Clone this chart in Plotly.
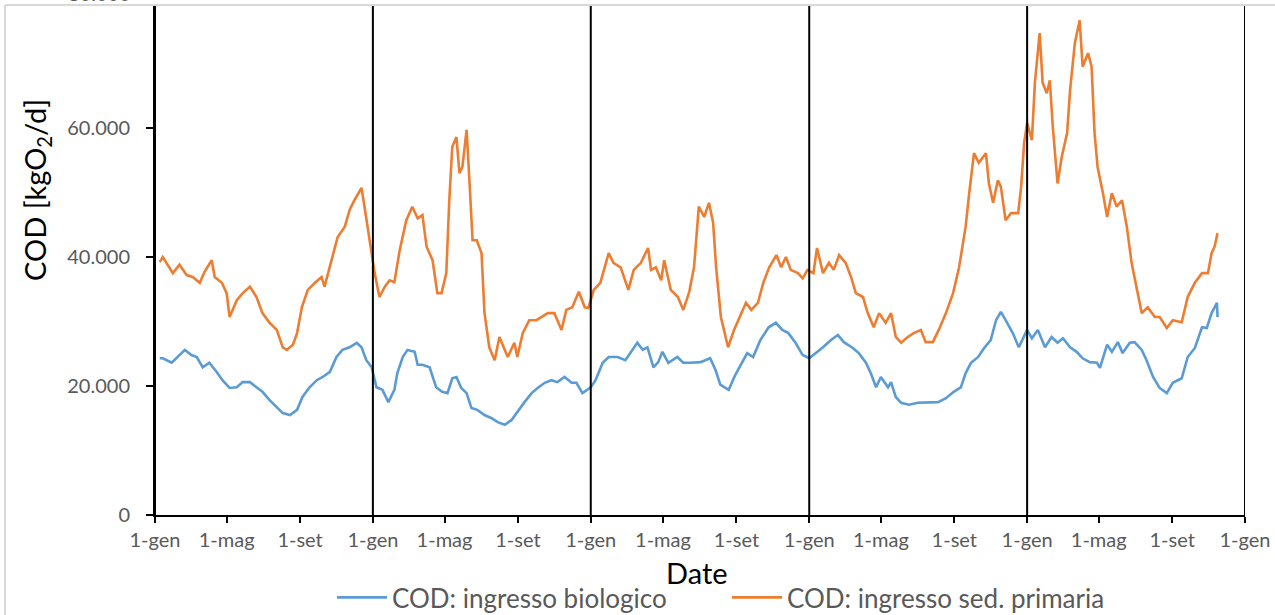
import plotly.graph_objects as go

# ---------------- data ----------------
orange_dates = [
    "2010-01-09","2010-01-14","2010-01-31","2010-02-11","2010-02-23","2010-03-05","2010-03-17","2010-03-25",
    "2010-04-06","2010-04-11","2010-04-23","2010-05-01","2010-05-06","2010-05-18","2010-05-28","2010-06-09",
    "2010-06-20","2010-06-30","2010-07-12","2010-07-24","2010-08-03","2010-08-10","2010-08-20","2010-08-27",
    "2010-09-04","2010-09-14","2010-09-26","2010-10-07","2010-10-12","2010-10-24","2010-11-03","2010-11-15",
    "2010-11-23","2010-12-01","2010-12-13","2010-12-18","2010-12-27",
    "2011-01-04","2011-01-12","2011-01-21","2011-01-29","2011-02-06","2011-02-15","2011-02-26","2011-03-08",
    "2011-03-17","2011-03-25","2011-04-01","2011-04-11","2011-04-19","2011-04-26","2011-05-04","2011-05-09",
    "2011-05-14","2011-05-21","2011-05-26","2011-05-31","2011-06-07","2011-06-12","2011-06-17","2011-06-24",
    "2011-07-02","2011-07-07","2011-07-15","2011-07-24","2011-08-01","2011-08-10","2011-08-15","2011-08-26",
    "2011-08-31","2011-09-09","2011-09-20","2011-10-02","2011-10-11","2011-10-21","2011-11-01","2011-11-13",
    "2011-11-21","2011-12-01","2011-12-12","2011-12-22","2011-12-28",
    "2012-01-06","2012-01-17","2012-01-26","2012-01-31","2012-02-08","2012-02-20","2012-03-04","2012-03-13",
    "2012-03-25","2012-04-06","2012-04-11","2012-04-19","2012-04-28","2012-05-03","2012-05-14","2012-05-26",
    "2012-06-04","2012-06-14","2012-06-22","2012-06-30","2012-07-09","2012-07-17","2012-07-24","2012-07-29",
    "2012-08-06","2012-08-18","2012-08-28","2012-09-09","2012-09-17","2012-09-26","2012-10-07","2012-10-16",
    "2012-10-26","2012-11-07","2012-11-15","2012-11-23","2012-12-01","2012-12-13","2012-12-21","2012-12-29",
    "2013-01-08","2013-01-14","2013-01-24","2013-02-03","2013-02-11","2013-02-20","2013-03-03","2013-03-12",
    "2013-03-20","2013-04-01","2013-04-09","2013-04-19","2013-04-28","2013-05-09","2013-05-18","2013-05-26",
    "2013-06-04","2013-06-15","2013-06-25","2013-07-07","2013-07-15","2013-07-27","2013-08-06","2013-08-18",
    "2013-08-30","2013-09-09","2013-09-20","2013-09-26","2013-10-04","2013-10-12","2013-10-24","2013-10-29",
    "2013-11-05","2013-11-13","2013-11-18","2013-11-26","2013-12-05","2013-12-17","2013-12-22","2013-12-27",
    "2014-01-01","2014-01-09","2014-01-14","2014-01-22","2014-01-27","2014-02-03","2014-02-08","2014-02-13",
    "2014-02-21","2014-02-28","2014-03-09","2014-03-14","2014-03-22","2014-03-30","2014-04-04","2014-04-13",
    "2014-04-19","2014-04-24","2014-04-29","2014-05-08","2014-05-15","2014-05-23","2014-05-31","2014-06-09",
    "2014-06-17","2014-06-25","2014-07-04","2014-07-12","2014-07-22","2014-08-03","2014-08-11","2014-08-23",
    "2014-09-02","2014-09-17","2014-09-27","2014-10-09","2014-10-21","2014-10-31","2014-11-06","2014-11-11",
    "2014-11-16",
]
orange_values = [
    39200,40000,37500,38800,37200,36900,36000,37700,
    39500,36900,36000,34400,30700,33300,34400,35400,
    33800,31300,29800,28700,26000,25600,26400,28200,
    32200,34900,36000,36900,35400,39500,43100,44700,
    47300,48800,50700,47800,42200,
    37500,33800,35400,36400,36100,41100,45700,47800,
    46000,46500,41600,39500,34400,34400,37500,48800,
    57100,58600,53000,54000,59700,51400,42600,42600,
    40600,31300,26000,24000,27600,25600,24500,26700,
    24500,28200,30200,30200,30700,31300,31300,28700,
    31800,32200,34600,32200,32100,
    34900,36000,39100,40600,39100,38400,34900,38000,
    39100,41400,38000,38400,36400,39500,34900,33800,
    31800,34600,38400,47800,46200,48400,45300,38400,
    30700,26000,28700,31300,32900,31800,32900,36000,
    38400,40300,38400,40000,38000,37500,36700,38000,
    37500,41400,37500,39100,38000,40300,39100,36900,
    34400,33800,31300,29100,31300,29800,31300,27600,
    26700,27600,28200,28700,26800,26800,28700,31300,
    34400,38400,44700,49900,56100,54600,56100,51400,
    48400,51900,50900,45700,46800,46800,50900,57700,
    60800,58100,67000,74700,67000,65400,67400,60200,
    51400,55500,59200,65900,73200,76700,69500,71600,
    69500,59200,54000,49900,46200,49900,47800,48800,
    44700,39100,34900,31300,32200,30700,30700,29000,
    30200,29900,33800,36000,37500,37500,40600,41600,
    43700,
]

blue_dates = [
    "2010-01-09","2010-01-14","2010-01-29","2010-02-08","2010-02-20","2010-03-03","2010-03-12","2010-03-22",
    "2010-04-02","2010-04-14","2010-04-24","2010-05-06","2010-05-18","2010-05-28","2010-06-09","2010-06-20",
    "2010-06-30","2010-07-12","2010-07-24","2010-08-03","2010-08-15","2010-08-27","2010-09-05","2010-09-17",
    "2010-09-29","2010-10-09","2010-10-21","2010-11-01","2010-11-11","2010-11-23","2010-12-05","2010-12-13",
    "2010-12-21","2010-12-30",
    "2011-01-07","2011-01-17","2011-01-27","2011-02-06","2011-02-11","2011-02-20","2011-02-28","2011-03-12",
    "2011-03-17","2011-03-25","2011-04-06","2011-04-17","2011-04-27","2011-05-06","2011-05-14","2011-05-21",
    "2011-05-29","2011-06-07","2011-06-15","2011-06-25","2011-07-07","2011-07-19","2011-07-29","2011-08-10",
    "2011-08-21","2011-08-31","2011-09-12","2011-09-24","2011-10-04","2011-10-16","2011-10-27","2011-11-06",
    "2011-11-18","2011-11-30","2011-12-08","2011-12-18",
    "2012-01-01","2012-01-09","2012-01-21","2012-01-31","2012-02-15","2012-02-28","2012-03-11","2012-03-19",
    "2012-03-28","2012-04-05","2012-04-15","2012-04-23","2012-04-30","2012-05-10","2012-05-25","2012-06-04",
    "2012-06-16","2012-07-03","2012-07-19","2012-07-28","2012-08-05","2012-08-19","2012-08-30","2012-09-08",
    "2012-09-19","2012-09-29","2012-10-11","2012-10-25","2012-11-06","2012-11-17","2012-11-27","2012-12-09",
    "2012-12-21",
    "2013-01-01","2013-01-12","2013-01-24","2013-02-06","2013-02-18","2013-02-28","2013-03-15","2013-03-25",
    "2013-04-06","2013-04-14","2013-04-23","2013-05-01","2013-05-13","2013-05-18","2013-05-26","2013-06-04",
    "2013-06-17","2013-07-02","2013-07-19","2013-08-05","2013-08-18","2013-08-31","2013-09-12","2013-09-20",
    "2013-09-29","2013-10-11","2013-10-21","2013-11-01","2013-11-10","2013-11-18","2013-11-26","2013-12-08",
    "2013-12-18","2013-12-27",
    "2014-01-01","2014-01-09","2014-01-19","2014-01-31","2014-02-11","2014-02-21","2014-03-02","2014-03-14",
    "2014-03-25","2014-04-04","2014-04-16","2014-04-28","2014-05-03","2014-05-15","2014-05-23","2014-06-02",
    "2014-06-10","2014-06-22","2014-06-30","2014-07-12","2014-07-20","2014-07-31","2014-08-11","2014-08-23",
    "2014-09-02","2014-09-17","2014-09-27","2014-10-09","2014-10-21","2014-10-29","2014-11-06","2014-11-15",
    "2014-11-16",
]
blue_values = [
    24300,24300,23600,24500,25600,24800,24500,22900,
    23600,22200,20900,19700,19800,20600,20600,19800,
    19100,17800,16700,15800,15500,16300,18300,19800,
    20900,21400,22200,24500,25600,26000,26700,26000,
    24000,22900,
    19800,19400,17500,19400,22000,24500,25600,25300,
    23300,23300,22900,19800,19100,18900,21200,21400,
    19700,18900,16600,16300,15500,15000,14400,14000,
    14700,16000,17500,18900,19700,20500,20900,20600,
    21400,20500,20500,18900,
    19800,20900,23600,24500,24500,24000,25600,26700,
    25600,26000,22900,23700,25300,23600,24500,23600,
    23600,23700,24300,22500,20200,19400,21700,23300,
    25100,24500,27100,29100,29800,28700,28200,26700,
    24800,
    24300,25100,26000,27100,27900,26800,25900,25100,
    23600,22000,19800,21400,19800,20600,18300,17400,
    17100,17400,17400,17500,18100,19100,19800,22000,
    23600,24500,25900,27100,30200,31500,30200,28200,
    26000,27600,
    28700,27400,28700,26000,27600,26700,27400,26000,
    25300,24300,23700,23600,22800,26400,25300,26800,
    25100,26700,26800,25600,24000,21400,19700,18900,
    20500,21200,24500,25900,29100,29000,31300,32900,
    30700,
]

x_tick_vals = []
x_tick_text = []
for yr in ["2010", "2011", "2012", "2013", "2014"]:
    x_tick_vals += [yr + "-01-01", yr + "-05-01", yr + "-09-01"]
    x_tick_text += ["1-gen", "1-mag", "1-set"]
x_tick_vals.append("2015-01-01")
x_tick_text.append("1-gen")

year_starts = ["2010-01-01", "2011-01-01", "2012-01-01", "2013-01-01", "2014-01-01", "2015-01-01"]

y_tick_vals = [0, 20000, 40000, 60000]
y_tick_text = ["0", "20.000", "40.000", "60.000"]

series_names = ["COD: ingresso biologico", "COD: ingresso sed. primaria"]
series_colors = ["#5B9BD5", "#ED7D31"]

x_title = "Date"
y_title = "COD [kgO<sub>2</sub>/d]"

# ---------------- figure ----------------
FONT = "Lato"
GRAY = "#595959"
W, H = 1275, 615
ML, MR, MT, MB = 155, 30, 6, 100
PW = W - ML - MR
PH = H - MT - MB


def px_x(p):
    return (p - ML) / PW


def px_y(p):
    return (H - MB - p) / PH


fig = go.Figure()
fig.add_trace(go.Scatter(x=blue_dates, y=blue_values, mode="lines", name=series_names[0],
                         line=dict(color=series_colors[0], width=2.6)))
fig.add_trace(go.Scatter(x=orange_dates, y=orange_values, mode="lines", name=series_names[1],
                         line=dict(color=series_colors[1], width=2.6)))

shapes = []
for d in year_starts:
    shapes.append(dict(type="line", xref="x", yref="paper", x0=d, x1=d, y0=0, y1=1,
                       line=dict(color="black", width=2)))
# light gray chart border (top and left)
shapes.append(dict(type="line", xref="paper", yref="paper", x0=px_x(5), x1=px_x(W + 5),
                   y0=px_y(5), y1=px_y(5), line=dict(color="#D9D9D9", width=2)))
shapes.append(dict(type="line", xref="paper", yref="paper", x0=px_x(5), x1=px_x(5),
                   y0=px_y(5), y1=px_y(H + 5), line=dict(color="#D9D9D9", width=2)))

fig.update_layout(
    width=W, height=H,
    margin=dict(l=ML, r=MR, t=MT, b=MB, pad=0, autoexpand=False),
    paper_bgcolor="white", plot_bgcolor="white",
    font=dict(family=FONT, color=GRAY, size=20),
    shapes=shapes,
    showlegend=True,
    legend=dict(orientation="h", x=px_x(332), xanchor="left", y=px_y(621), yanchor="bottom",
                font=dict(family=FONT, size=26, color=GRAY), bgcolor="rgba(0,0,0,0)",
                itemwidth=50, entrywidth=330, entrywidthmode="pixels", tracegroupgap=0),
    xaxis=dict(
        type="date", range=["2010-01-01", "2015-01-01"], automargin=False,
        tickmode="array", tickvals=x_tick_vals, ticktext=x_tick_text,
        ticks="outside", ticklen=6, tickwidth=2, tickcolor="black",
        showline=True, linecolor="black", linewidth=2,
        showgrid=False, zeroline=False,
        tickfont=dict(family=FONT, size=20, color=GRAY),
    ),
    yaxis=dict(
        range=[0, PH / 6.45 * 1000], automargin=False,
        tickmode="array", tickvals=y_tick_vals, ticktext=y_tick_text,
        ticks="outside", ticklen=7, tickwidth=2, tickcolor="black",
        showline=True, linecolor="black", linewidth=2,
        showgrid=False, zeroline=False,
        tickfont=dict(family=FONT, size=20, color=GRAY),
        ticklabelstandoff=12,
    ),
    annotations=[
        dict(text="80.000", xref="paper", yref="paper", x=px_x(133), y=px_y(-7),
             xanchor="right", yanchor="middle", showarrow=False,
             font=dict(family=FONT, size=20, color=GRAY)),
        dict(text=x_title, xref="paper", yref="paper", x=px_x(697), y=px_y(572),
             xanchor="center", yanchor="middle", showarrow=False,
             font=dict(family=FONT, size=29, color="black")),
        dict(text=y_title, xref="paper", yref="paper", x=px_x(36), y=px_y(190),
             xanchor="center", yanchor="middle", showarrow=False, textangle=-90,
             font=dict(family=FONT, size=29, color="black")),
    ],
)

fig.write_html("out.html")
